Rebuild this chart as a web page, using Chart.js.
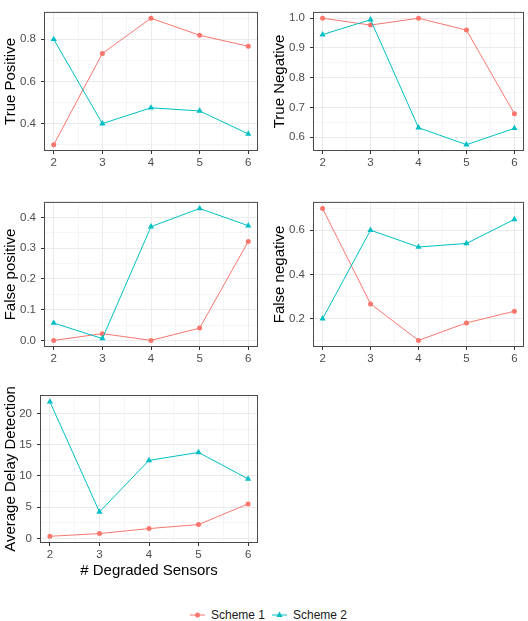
<!DOCTYPE html>
<html>
<head>
<meta charset="utf-8">
<script src="https://cdn.jsdelivr.net/npm/chart.js@4.4.1/dist/chart.umd.min.js"></script>
<style>
  body { margin: 0; background: #fff; width: 528px; height: 621px; position: relative; overflow: hidden;
         font-family: "Liberation Sans", Arial, sans-serif; }
  canvas { position: absolute; }
  #legend { position: absolute; left: 4px; top: 606px; width: 528px; height: 18px;
            display: flex; justify-content: center; align-items: center; font-size: 12px; color: #1a1a1a; }
  .key { display: flex; align-items: center; margin: 0 3px; }
  .key svg { margin-right: 5px; }
</style>
</head>
<body>
<canvas id="tp"></canvas>
<canvas id="tn"></canvas>
<canvas id="fp"></canvas>
<canvas id="fn"></canvas>
<canvas id="add"></canvas>
<div id="legend"></div>

<script>
// x = number of degraded sensors
const sensors = [2, 3, 4, 5, 6];

// values
const tpScheme1 = [0.30, 0.733, 0.90, 0.819, 0.767];
const tpScheme2 = [0.80, 0.40, 0.475, 0.46, 0.351];
const tnScheme1 = [1.0, 0.977, 1.0, 0.96, 0.679];
const tnScheme2 = [0.945, 0.995, 0.632, 0.575, 0.630];
const fpScheme1 = [0.0, 0.022, 0.0, 0.04, 0.322];
const fpScheme2 = [0.0565, 0.006, 0.37, 0.429, 0.373];
const fnScheme1 = [0.698, 0.267, 0.102, 0.181, 0.234];
const fnScheme2 = [0.20, 0.60, 0.524, 0.54, 0.649];
const addScheme1 = [0.37, 0.8, 1.6, 2.24, 5.54];
const addScheme2 = [21.86, 4.26, 12.5, 13.76, 9.54];

// tick marks
const xTicks = [2, 3, 4, 5, 6];
const tpTicks = [0.4, 0.6, 0.8];
const tnTicks = [0.6, 0.7, 0.8, 0.9, 1.0];
const fpTicks = [0.0, 0.1, 0.2, 0.3, 0.4];
const fnTicks = [0.2, 0.4, 0.6];
const addTicks = [0, 5, 10, 15, 20];

const seriesNames = ['Scheme 1', 'Scheme 2'];
const COL1 = '#F8766D';
const COL2 = '#00BFC4';
const FONT = '"Liberation Sans", Arial, sans-serif';

// ggplot style: minor breaks halfway between the major ones
function withMinors(majors, lo, hi) {
  const step = majors[1] - majors[0];
  const out = [];
  majors.forEach(v => out.push(v));
  majors.forEach(v => out.push(v - step / 2));
  out.push(majors[majors.length - 1] + step / 2);
  return out.filter(v => v >= lo && v <= hi).sort((a, b) => a - b);
}
function isMajor(majors, v) {
  return majors.some(m => Math.abs(m - v) < 1e-9);
}
function expandRange(values) {
  const lo = Math.min(...values), hi = Math.max(...values);
  const pad = (hi - lo) * 0.05;
  return [lo - pad, hi + pad];
}

function makeScale(majors, lo, hi, digits, pad, opts) {
  const all = withMinors(majors, lo, hi);
  return Object.assign({
    type: 'linear',
    min: lo,
    max: hi,
    afterBuildTicks: (scale) => { scale.ticks = all.map(v => ({ value: v })); },
    border: { display: false },
    grid: {
      color: '#ebebeb',
      lineWidth: (c) => isMajor(majors, c.tick.value) ? 1 : 0.5,
      tickColor: (c) => isMajor(majors, c.tick.value) ? '#333333' : 'rgba(0,0,0,0)',
      tickLength: 3,
      drawTicks: true
    },
    ticks: {
      autoSkip: false,
      maxRotation: 0,
      padding: pad,
      color: '#4d4d4d',
      font: { family: FONT, size: 11.5 },
      callback: (v) => isMajor(majors, v) ? Number(v).toFixed(digits) : ''
    }
  }, opts);
}

// full panel border, drawn over the data like ggplot's theme_bw
const panelBorder = {
  id: 'panelBorder',
  afterDatasetsDraw(chart) {
    const { left, top, right, bottom } = chart.chartArea;
    const ctx = chart.ctx;
    ctx.save();
    ctx.strokeStyle = '#4a4a4a';
    ctx.lineWidth = 1;
    ctx.strokeRect(left + 0.5, top + 0.5, right - left - 1, bottom - top - 1);
    ctx.restore();
  }
};

// y axis title, drawn without the width limit so long titles are not squeezed
const yTitle = {
  id: 'yTitle',
  afterDraw(chart, args, opts) {
    const { top, bottom } = chart.chartArea;
    const ctx = chart.ctx;
    ctx.save();
    ctx.translate(opts.x, (top + bottom) / 2);
    ctx.rotate(-Math.PI / 2);
    ctx.fillStyle = '#000';
    ctx.font = '15px ' + FONT;
    ctx.textAlign = 'center';
    ctx.textBaseline = 'middle';
    ctx.fillText(opts.text, 0, 0);
    ctx.restore();
  }
};

function makePanel(p) {
  const canvas = document.getElementById(p.id);
  const top = p.canvasTop;
  const height = p.canvasBottom - top;
  canvas.width = 264;
  canvas.height = height;
  canvas.style.left = p.canvasLeft + 'px';
  canvas.style.top = top + 'px';

  const [ylo, yhi] = expandRange(p.s1.concat(p.s2));
  const xscale = makeScale(xTicks, 1.8, 6.2, 0, 2, {
    afterFit: (s) => { s.height = p.canvasBottom - p.plotBottom; },
    title: p.xTitle ? { display: true, text: p.xTitle, color: '#000',
      font: { family: FONT, size: 15 }, padding: { top: 0, bottom: 0 } } : { display: false }
  });
  const yscale = makeScale(p.ticks, ylo, yhi, p.digits, 5, {
    afterFit: (s) => { s.width = p.plotLeft - p.canvasLeft; }
  });

  new Chart(canvas.getContext('2d'), {
    type: 'line',
    data: {
      datasets: [
        {
          label: seriesNames[0],
          data: sensors.map((x, i) => ({ x: x, y: p.s1[i] })),
          borderColor: COL1, backgroundColor: COL1,
          borderWidth: 1, pointStyle: 'circle', pointRadius: 2.5,
          pointBorderWidth: 0, pointBackgroundColor: COL1, order: 1
        },
        {
          label: seriesNames[1],
          data: sensors.map((x, i) => ({ x: x, y: p.s2[i] })),
          borderColor: COL2, backgroundColor: COL2,
          borderWidth: 1, pointStyle: 'triangle', pointRadius: 3.6,
          pointBorderWidth: 0, pointBackgroundColor: COL2, order: 0
        }
      ]
    },
    options: {
      responsive: false,
      animation: false,
      layout: { padding: { top: p.plotTop - top, left: 0, bottom: 0, right: p.canvasLeft + 264 - p.plotRight } },
      plugins: {
        legend: { display: false },
        tooltip: { enabled: false },
        yTitle: { text: p.yTitle, x: p.titleX }
      },
      scales: { x: xscale, y: yscale }
    },
    plugins: [panelBorder, yTitle]
  });
}

makePanel({ id: 'tp', canvasLeft: 0, canvasTop: 0, plotLeft: 44, plotTop: 4, plotRight: 258, plotBottom: 151, canvasBottom: 174,
  s1: tpScheme1, s2: tpScheme2, ticks: tpTicks, digits: 1, yTitle: 'True Positive', titleX: 10.5 });
makePanel({ id: 'tn', canvasLeft: 264, canvasTop: 0, plotLeft: 313, plotTop: 4, plotRight: 527, plotBottom: 151, canvasBottom: 174,
  s1: tnScheme1, s2: tnScheme2, ticks: tnTicks, digits: 1, yTitle: 'True Negative', titleX: 16 });
makePanel({ id: 'fp', canvasLeft: 0, canvasTop: 190, plotLeft: 44, plotTop: 201, plotRight: 258, plotBottom: 347, canvasBottom: 370,
  s1: fpScheme1, s2: fpScheme2, ticks: fpTicks, digits: 1, yTitle: 'False positive', titleX: 10.5 });
makePanel({ id: 'fn', canvasLeft: 264, canvasTop: 190, plotLeft: 313, plotTop: 201, plotRight: 527, plotBottom: 347, canvasBottom: 370,
  s1: fnScheme1, s2: fnScheme2, ticks: fnTicks, digits: 1, yTitle: 'False negative', titleX: 15.5 });
makePanel({ id: 'add', canvasLeft: 0, canvasTop: 376, plotLeft: 40, plotTop: 395, plotRight: 258, plotBottom: 543, canvasBottom: 580,
  s1: addScheme1, s2: addScheme2, ticks: addTicks, digits: 0, yTitle: 'Average Delay Detection', titleX: 10.5,
  xTitle: '# Degraded Sensors' });

// legend (glyph = line + point, like ggplot's key)
const legend = document.getElementById('legend');
const glyphs = [
  '<circle cx="8.5" cy="9" r="2.5" fill="' + COL1 + '"/>',
  '<polygon points="8.5,5.6 11.6,11 5.4,11" fill="' + COL2 + '"/>'
];
[COL1, COL2].forEach((col, i) => {
  const key = document.createElement('div');
  key.className = 'key';
  key.innerHTML = '<svg width="17" height="18"><line x1="1" y1="9" x2="16" y2="9" stroke="' + col +
    '" stroke-width="1"/>' + glyphs[i] + '</svg><span>' + seriesNames[i] + '</span>';
  legend.appendChild(key);
});
</script>
</body>
</html>
